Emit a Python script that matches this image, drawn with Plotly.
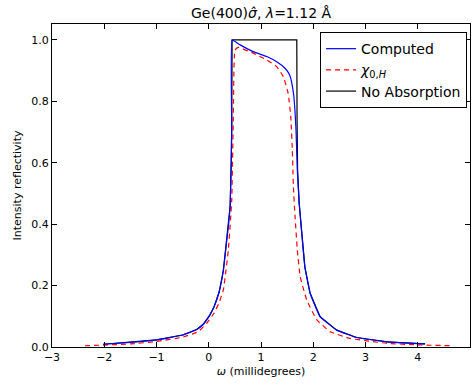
import plotly.graph_objects as go

# Computed (blue)
comp_x = [-2.02, -1.5, -1.0, -0.5, -0.23, -0.1, 0.02, 0.1, 0.2, 0.28, 0.34, 0.38, 0.41, 0.43, 0.44, 0.447,
          0.6, 0.85, 1.11, 1.30, 1.46, 1.53, 1.57, 1.60, 1.63, 1.65, 1.67, 1.695, 1.73, 1.78, 1.84, 1.94, 2.13,
          2.45, 2.83, 3.41, 4.14]
comp_y = [0.009, 0.015, 0.023, 0.039, 0.057, 0.075, 0.104, 0.13, 0.18, 0.25, 0.34, 0.40, 0.46, 0.60, 0.72, 1.0,
          0.984, 0.962, 0.946, 0.929, 0.908, 0.892, 0.875, 0.85, 0.815, 0.77, 0.707, 0.577, 0.47, 0.37, 0.26, 0.175, 0.099,
          0.055, 0.031, 0.017, 0.01]

# chi_0,H (red dashed)
chi_x = [-2.37, -1.5, -1.0, -0.5, -0.2, -0.04, 0.1, 0.2, 0.28, 0.375, 0.44, 0.47, 0.50, 0.566,
         0.85, 1.11, 1.30, 1.43, 1.52, 1.57, 1.60, 1.62, 1.65, 1.695, 1.75, 1.875, 2.07, 2.32, 2.70, 3.41, 4.0, 4.68]
chi_y = [0.004, 0.01, 0.018, 0.032, 0.05, 0.077, 0.11, 0.145, 0.186, 0.316, 0.479, 0.75, 0.967, 0.976,
         0.957, 0.935, 0.913, 0.880, 0.826, 0.75, 0.64, 0.52, 0.43, 0.316, 0.229, 0.153, 0.088, 0.05, 0.028, 0.012, 0.007, 0.004]

# No absorption (black, flat-topped Darwin curve; tails lie under the computed curve)
noabs_x = [-2.02, -1.5, -1.0, -0.5, -0.23, -0.1, 0.02, 0.1, 0.2, 0.28, 0.34, 0.38, 0.41, 0.43, 0.44, 0.447,
           1.685, 1.69, 1.70, 1.73, 1.78, 1.84, 1.94, 2.13, 2.45, 2.83, 3.41, 4.14]
noabs_y = [0.009, 0.015, 0.023, 0.039, 0.057, 0.075, 0.104, 0.13, 0.18, 0.25, 0.34, 0.40, 0.46, 0.60, 0.72, 1.0,
           1.0, 0.75, 0.58, 0.47, 0.37, 0.26, 0.175, 0.099, 0.055, 0.031, 0.017, 0.01]

x_ticks = [-3, -2, -1, 0, 1, 2, 3, 4, 5]
y_ticks = [0.0, 0.2, 0.4, 0.6, 0.8, 1.0]

fig = go.Figure()
fig.add_trace(go.Scatter(x=noabs_x, y=noabs_y, mode="lines", name="No Absorption", legendrank=3,
                         line=dict(color="black", width=1.2)))
fig.add_trace(go.Scatter(x=chi_x, y=chi_y, mode="lines", name="<i>χ</i><sub>0,<i>H</i></sub>", legendrank=2,
                         line=dict(color="red", width=1.2, dash="5px,4px", shape="spline", smoothing=0.3)))
fig.add_trace(go.Scatter(x=comp_x, y=comp_y, mode="lines", name="Computed", legendrank=1,
                         line=dict(color="blue", width=1.2, shape="spline", smoothing=0.3)))

axis_common = dict(showline=True, linecolor="black", linewidth=1, mirror="allticks",
                   ticks="inside", ticklen=5, tickcolor="black", showgrid=False, zeroline=False,
                   tickfont=dict(size=11, color="black"))

fig.update_layout(
    width=472, height=385,
    margin=dict(l=52, r=2, t=24, b=38),
    paper_bgcolor="white", plot_bgcolor="white",
    font=dict(family="DejaVu Sans", size=12, color="black"),
    title=dict(text="Ge(400)<i>σ̂</i>, <i>λ</i>=1.12 Å", x=0.553, xanchor="center",
               y=0.965, yanchor="middle", font=dict(size=14)),
    xaxis=dict(range=[-3, 5], tickvals=x_ticks, ticktext=["−3", "−2", "−1", "0", "1", "2", "3", "4", "5"],
               title=dict(text="<i>ω</i> (millidegrees)", font=dict(size=11), standoff=4), **axis_common),
    yaxis=dict(range=[0, 1.052], tickvals=y_ticks, ticktext=["0.0", "0.2", "0.4", "0.6", "0.8", "1.0"],
               title=dict(text="Intensity reflectivity", font=dict(size=11), standoff=7), **axis_common),
    legend=dict(x=0.993, y=0.975, xanchor="right", yanchor="top", bordercolor="black", borderwidth=1,
                bgcolor="white", font=dict(size=14), tracegroupgap=0, itemwidth=30,
                traceorder="normal"),
    showlegend=True,
)

fig.write_html("out.html")
